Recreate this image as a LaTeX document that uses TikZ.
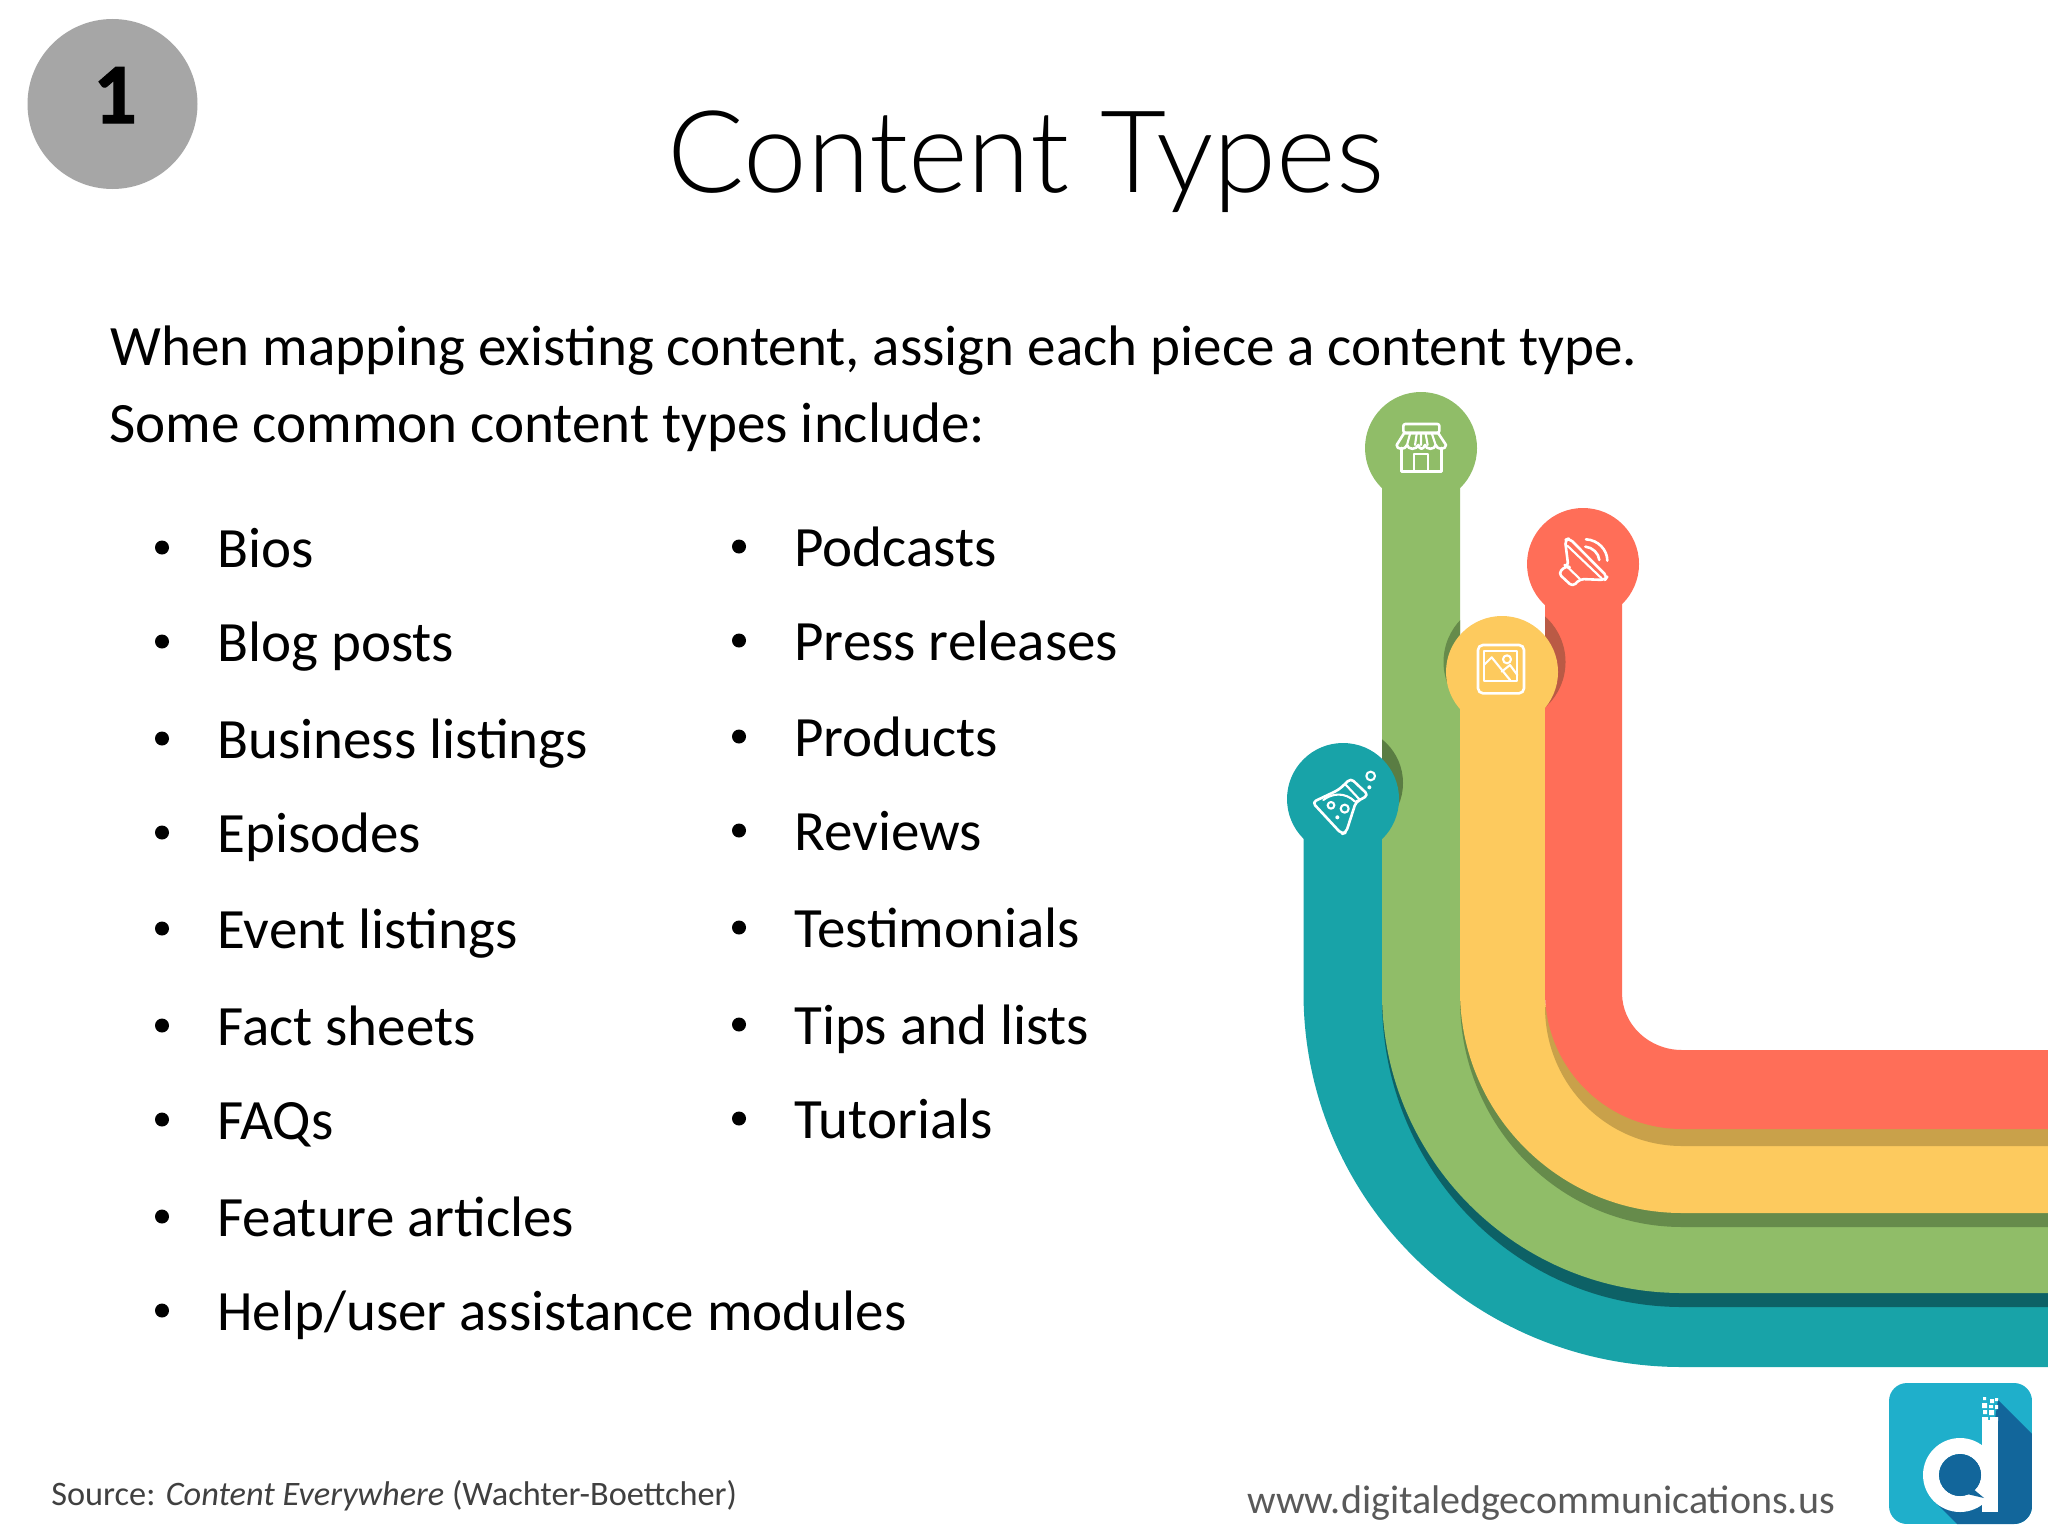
\documentclass[tikz,border=0pt]{standalone}
\usepackage{fontspec}
\setmainfont{Carlito}
\newfontfamily\titlefont{Lato Light}
\newfontfamily\numfont{Carlito Bold}[RawFeature={embolden=1.2}]
\definecolor{teal1}{HTML}{18A3A8}
\definecolor{teal2}{HTML}{0D6166}
\definecolor{green1}{HTML}{90BD68}
\definecolor{green2}{HTML}{668B4B}
\definecolor{green3}{HTML}{5A7D43}
\definecolor{yellow1}{HTML}{FDCA5E}
\definecolor{tan1}{HTML}{C9A14A}
\definecolor{red1}{HTML}{FF6E58}
\definecolor{red2}{HTML}{BA5A45}
\definecolor{logoa}{HTML}{1FAFCB}
\definecolor{logob}{HTML}{12669B}
\newcommand\myband[9]{\fill[#1] ({#2},{#3}) -- ({#2},{#4}) .. controls ({#2},{#4+0.5523*(#6-#4)}) and ({#5-0.5523*(#5-#2)},{#6}) .. ({#5},{#6}) -- (2048,{#6}) -- (2048,{#7}) -- ({#5},{#7}) .. controls ({#5-0.5523*(#5-#8)},{#7}) and ({#8},{#9+0.5523*(#7-#9)}) .. ({#8},{#9}) -- ({#8},{#3}) -- cycle;}
\tikzset{
  body/.style={anchor=base west,inner sep=0,font=\fontsize{28.55}{28.55}\selectfont,text=black},
  item/.style={anchor=base west,inner sep=0,font=\fontsize{28.5}{28.5}\selectfont,text=black},
  dot/.style={fill=black,circle,inner sep=0,minimum size=7pt},
  icon/.style={draw=white,line width=1.3pt,line join=round,line cap=round},
  thinicon/.style={icon,line width=1.05pt},
}
\begin{document}
\begin{tikzpicture}[x=0.5pt,y=-0.5pt]
\useasboundingbox (0,0) rectangle (2048,1536);
\fill[white] (0,0) rectangle (2048,1536);
% numbered badge
\node[circle,fill=black!35,minimum size=85pt,inner sep=0] (badge) at (112.5,104) {};
\node[anchor=base,inner sep=0,font=\fontsize{43}{43}\numfont] (num) at (115,123) {1};
% title
\node[anchor=base west,inner sep=0,font=\fontsize{57.1}{57.1}\titlefont] (title) at (667,192) {Content Types};
\node[body] (intro1) at (110,365) {When mapping existing content, assign each piece a content type.};
\node[body] (intro2) at (109,442) {Some common content types include:};
% lists
\foreach \nm/\yy/\tx in {a/567/Bios,b/661/Blog posts,c/758/Business listings,d/852/Episodes,e/948/Event listings,f/1045/Fact sheets,g/1139/FAQs,h/1236/Feature articles,i/1330/Help\slash user assistance modules}{
  \node[item] (l\nm) at (217,\yy) {\tx};
  \node[dot] (bl\nm) at (162,\yy-19.5) {};
}
\foreach \nm/\yy/\tx in {a/566/Podcasts,b/660/Press releases,c/756/Products,d/850/Reviews,e/947/Testimonials,f/1044/Tips and lists,g/1138/Tutorials}{
  \node[item] (r\nm) at (794,\yy) {\tx};
  \node[dot] (br\nm) at (739,\yy-19.5) {};
}
% bands
\myband{teal1}{1303.5}{799}{993}{1682}{1367}{1285}{1390}{993}
\myband{teal2}{1382}{1000}{1000}{1682}{1307}{1285}{1395}{1000}
\myband{green1}{1382}{448}{993}{1682}{1293}{1205}{1460}{993}
\myband{green2}{1460}{1000}{1000}{1682}{1227}{1205}{1475}{1000}
\myband{yellow1}{1460}{672}{991}{1682}{1213}{1120}{1545}{992}
\myband{tan1}{1545}{1007}{1007}{1682}{1146}{1120}{1560}{1007}
\myband{red1}{1545}{564}{992}{1682}{1129}{1050}{1622}{993}
% circle shadows
\begin{scope}
\clip (1382,700) rectangle (1460,900);
\fill[green3] (1347,783) circle[radius=56];
\end{scope}
\begin{scope}
\clip (1382,560) rectangle (1460,760);
\fill[green2] (1504.5,662) circle[radius=61];
\end{scope}
\begin{scope}
\clip (1545,560) rectangle (1622,760);
\fill[red2] (1504.5,662) circle[radius=61];
\end{scope}
% circles
\fill[green1] (1421,448) circle[radius=56];
\fill[red1] (1583,564) circle[radius=56];
\fill[yellow1] (1502,672) circle[radius=56];
\fill[teal1] (1343,799) circle[radius=56];
% icons, in 3x crop coordinates
\begin{scope}[shift={(1260,370)},x=0.5pt/3,y=-0.5pt/3]
% store
\draw[icon,rounded corners=1pt] (430,188) -- (430,162) -- (538,162) -- (538,188) -- cycle;
\draw[icon] (432,190) -- (535,190) -- (558,225) .. controls (558,240) and (530,240) .. (527,225)
  .. controls (525,240) and (497,240) .. (495,225) .. controls (490,240) and (478,240) .. (475,225)
  .. controls (470,240) and (444,240) .. (441,225) .. controls (438,240) and (408,240) .. (410,225) -- cycle;
\draw[thinicon] (450,192) -- (441,225) (470,192) -- (465,225) (483,192) -- (483,225) (497,192) -- (503,225) (516,192) -- (527,225);
\draw[icon] (425,234) -- (425,305) -- (545,305) -- (545,234);
\draw[thinicon] (463,305) -- (463,252) -- (505,252) -- (505,305);
% speaker
\draw[icon,rounded corners=2pt] (915,510) -- (928,505) -- (1042,620) -- (1035,630) -- (960,627) -- (938,650) -- (895,610) -- (918,587) -- (925,590) -- cycle;
\draw[thinicon] (918,587) -- (960,627) (922,527) -- (1025,625);
\draw[icon] (978,508) .. controls (1015,510) and (1042,540) .. (1042,572);
\draw[icon] (976,530) .. controls (998,532) and (1016,550) .. (1018,570);
% picture
\draw[icon,rounded corners=2.5pt] (654,825) rectangle (792,970);
\draw[thinicon] (672,843) rectangle (772,932);
\draw[thinicon] (741,868) circle[radius=12];
\draw[thinicon] (672,885) -- (695,862) -- (750,930) (725,905) -- (750,885) -- (772,915);
% flask
\draw[icon,rounded corners=2pt] (157,1297) -- (235,1260) -- (255,1242) -- (272,1225) -- (325,1275) -- (300,1290) -- (288,1295) -- (258,1388) -- (245,1392) -- cycle;
\draw[thinicon] (255,1242) -- (300,1290);
\draw[thinicon] (190,1290) .. controls (215,1270) and (255,1265) .. (285,1295);
\draw[thinicon] (254,1316) circle[radius=12];
\draw[thinicon] (213,1306) circle[radius=10];
\draw[thinicon] (332,1218) circle[radius=13];
\fill[white] (232,1342) circle[radius=6] (328,1252) circle[radius=6];
\end{scope}
% logo
\begin{scope}
\path[clip,rounded corners=9pt] (1889,1383) rectangle (2032,1524);
\fill[logoa] (1889,1383) rectangle (2032,1524);
\fill[logob] (1998,1400) -- (2032,1434) -- (2032,1524) -- (1957,1524) -- (1934,1501) -- (1960,1475) -- (1990,1450) -- cycle;
\end{scope}
\fill[white,even odd rule] (1960,1475) circle[radius=37] (1960,1475) circle[radius=21];
\fill[white] (1982,1420) rectangle (1998,1512);
\fill[logob] (1960,1475) circle[radius=21];
\fill[logob] (1972,1488) -- (1984,1498) -- (1967,1494) -- cycle;
\fill[white] (1983,1397) rectangle +(3,3) (1990,1399) rectangle +(4,4) (1995,1398) rectangle +(3,3) (1982,1403) rectangle +(5,5) (1989,1405) rectangle +(4,3) (1995,1405) rectangle +(3,4) (1983,1410) rectangle +(4,4) (1989,1410) rectangle +(5,5) (1982,1417) rectangle +(6,4) (1990,1417) rectangle +(8,4);
% footer
\node[anchor=base west,inner sep=0,text=black!75,font=\fontsize{17.15}{17.15}\selectfont] (src) at (51,1505) {Source: \textit{Content Everywhere} (Wachter-Boettcher)};
\node[anchor=base west,inner sep=0,text=black!65,font=\fontsize{20}{20}\selectfont] (web) at (1247,1513) {www.digitaledgecommunications.us};
\end{tikzpicture}
\end{document}
